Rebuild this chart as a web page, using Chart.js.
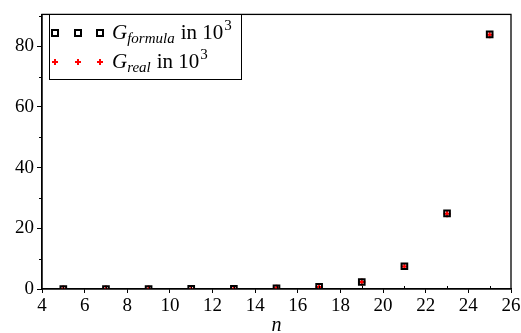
<!DOCTYPE html>
<html>
<head>
<meta charset="utf-8">
<script src="https://cdn.jsdelivr.net/npm/chart.js@4/dist/chart.umd.min.js"></script>
<style>
  html, body { margin: 0; padding: 0; background: #fff; }
  #wrap { width: 521px; height: 333px; position: relative; }
</style>
</head>
<body>
<div id="wrap"><canvas id="chart"></canvas></div>
<script>
// n values (odd only)
const nValues = [5, 7, 9, 11, 13, 15, 17, 19, 21, 23, 25];
// G in units of 10^3
const gFormula = [0.0004, 0.0015, 0.005, 0.02, 0.06, 0.21, 0.7, 2.3, 7.5, 24.9, 83.9];
const gReal = [0.0004, 0.0015, 0.005, 0.02, 0.06, 0.21, 0.7, 2.3, 7.4, 24.8, 83.8];
const xTicks = [4, 6, 8, 10, 12, 14, 16, 18, 20, 22, 24, 26];
const yTicks = [0, 20, 40, 60, 80];

const serif = "'Liberation Serif', 'DejaVu Serif', serif";

function toPoints(xs, ys) {
    return xs.map(function (x, i) { return { x: x, y: ys[i] }; });
}

// frame round the plot, minor ticks and the legend box
const framePlugin = {
    id: 'frame',
    afterDraw(chart) {
        const ctx = chart.ctx;
        const a = chart.chartArea;
        const xs = chart.scales.x;
        const ys = chart.scales.y;
        ctx.save();
        ctx.strokeStyle = '#000';
        ctx.lineWidth = 1.3;
        ctx.strokeRect(a.left, a.top, a.right - a.left, a.bottom - a.top);

        // minor ticks
        ctx.lineWidth = 1;
        ctx.beginPath();
        for (let v = 5; v < 26; v += 2) {
            const px = Math.round(xs.getPixelForValue(v)) + 0.5;
            ctx.moveTo(px, a.bottom);
            ctx.lineTo(px, a.bottom - 3);
        }
        for (let v = 10; v < 91; v += 20) {
            const py = Math.round(ys.getPixelForValue(v)) + 0.5;
            ctx.moveTo(a.left, py);
            ctx.lineTo(a.left - 3, py);
        }
        ctx.stroke();

        // legend
        const lx = 49, ly = 14, lw = 192, lh = 65;
        ctx.fillStyle = '#fff';
        ctx.fillRect(lx, ly, lw, lh);
        ctx.strokeStyle = '#000';
        ctx.lineWidth = 1;
        ctx.strokeRect(lx + 0.5, ly + 0.5, lw, lh);

        const rows = [
            { y: 33, sub: 'formula', kind: 'square' },
            { y: 62, sub: 'real', kind: 'cross' }
        ];
        rows.forEach(function (r) {
            [55, 78, 100].forEach(function (mx) {
                if (r.kind === 'square') {
                    ctx.strokeStyle = '#000';
                    ctx.lineWidth = 2;
                    ctx.strokeRect(mx - 3, r.y - 3, 6, 6);
                } else {
                    ctx.strokeStyle = '#f00';
                    ctx.lineWidth = 2;
                    ctx.beginPath();
                    ctx.moveTo(mx - 3, r.y);
                    ctx.lineTo(mx + 3, r.y);
                    ctx.moveTo(mx, r.y - 3);
                    ctx.lineTo(mx, r.y + 3);
                    ctx.stroke();
                }
            });
            let tx = 112;
            const base = r.y + 6;
            ctx.fillStyle = '#000';
            ctx.textBaseline = 'alphabetic';
            ctx.textAlign = 'left';
            ctx.font = 'italic 21px ' + serif;
            ctx.fillText('G', tx, base);
            tx += ctx.measureText('G').width;
            ctx.font = 'italic 15px ' + serif;
            ctx.fillText(r.sub, tx, base + 4);
            tx += ctx.measureText(r.sub).width + 6;
            ctx.font = '21px ' + serif;
            ctx.fillText('in 10', tx, base);
            tx += ctx.measureText('in 10').width;
            ctx.font = '15px ' + serif;
            ctx.fillText('3', tx + 1, base - 9);
        });
        ctx.restore();
    }
};

function setupChart() {
    const canvas = document.getElementById('chart').getContext('2d');
    new Chart(canvas, {
        type: 'scatter',
        data: {
            datasets: [{
                label: 'G_formula in 10^3',
                data: toPoints(nValues, gFormula),
                pointStyle: 'rect',
                pointRadius: 4,
                borderColor: '#000',
                backgroundColor: 'rgba(0,0,0,0)',
                borderWidth: 2,
                pointHoverRadius: 4
            }, {
                label: 'G_real in 10^3',
                data: toPoints(nValues, gReal),
                pointStyle: 'cross',
                pointRadius: 3.5,
                borderColor: '#f00',
                backgroundColor: '#f00',
                borderWidth: 2,
                pointHoverRadius: 3.5
            }]
        },
        options: {
            responsive: true,
            maintainAspectRatio: false,
            animation: false,
            layout: { padding: { top: 11, right: 10, left: 0, bottom: 0 } },
            plugins: {
                legend: { display: false },
                tooltip: { enabled: false }
            },
            scales: {
                x: {
                    type: 'linear',
                    min: 4,
                    max: 26,
                    afterBuildTicks: function (axis) {
                        axis.ticks = xTicks.map(function (v) { return { value: v }; });
                    },
                    grid: { drawOnChartArea: false, drawTicks: true, tickLength: 4, color: '#000' },
                    border: { display: true, color: '#000', width: 1.3 },
                    ticks: {
                        color: '#000',
                        font: { family: serif, size: 19 },
                        padding: 2,
                        maxRotation: 0
                    },
                    title: {
                        display: true,
                        text: 'n',
                        color: '#000',
                        font: { family: serif, size: 20, style: 'italic' },
                        padding: { top: 4, bottom: -5 }
                    },
                    afterFit: function (axis) {
                        axis.height = 44;
                        axis.paddingLeft = 0;
                        axis.paddingRight = 0;
                    }
                },
                y: {
                    type: 'linear',
                    min: 0,
                    max: 90.5,
                    afterBuildTicks: function (axis) {
                        axis.ticks = yTicks.map(function (v) { return { value: v }; });
                    },
                    grid: { drawOnChartArea: false, drawTicks: true, tickLength: 5, color: '#000' },
                    border: { display: true, color: '#000', width: 1.3 },
                    ticks: {
                        color: '#000',
                        font: { family: serif, size: 19 },
                        padding: 3
                    },
                    afterFit: function (axis) { axis.width = 42; }
                }
            }
        },
        plugins: [framePlugin]
    });
}

setupChart();
</script>
</body>
</html>
